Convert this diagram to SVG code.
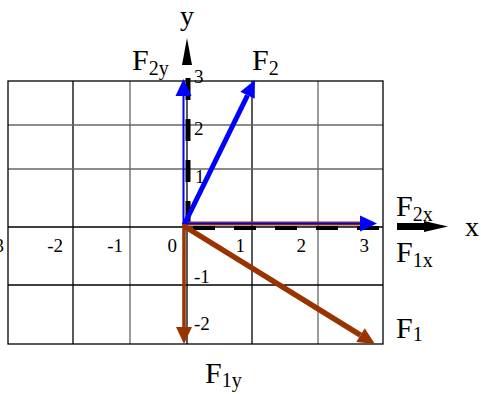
<svg xmlns="http://www.w3.org/2000/svg" width="481" height="394" viewBox="0 0 481 394">
<style>
  .g { stroke: #000; stroke-width: 1.3; fill: none; }
  .gl { stroke: #666; stroke-width: 1.3; fill: none; }
  .lbl { font-family: "Liberation Serif", "Times New Roman", serif; font-size: 30px; fill: #000; }
  .sub { font-size: 20px; }
  .tick { font-family: "Liberation Serif", "Times New Roman", serif; font-size: 19px; fill: #000; }
  .axis { stroke: #000; fill: none; stroke-dasharray: 22 19; }
  .blue { stroke: #0000ff; fill: none; }
  .brown { stroke: #993300; fill: none; }
</style>
<defs>
  <marker id="ahBlue" markerUnits="userSpaceOnUse" viewBox="0 -8 17 16" markerWidth="17" markerHeight="16" refX="0" refY="0" orient="auto" overflow="visible">
    <path d="M0,-8 L17,0 L0,8 z" fill="#0000ff"/>
  </marker>
  <marker id="ahBrown" markerUnits="userSpaceOnUse" viewBox="0 -8 17 16" markerWidth="17" markerHeight="16" refX="0" refY="0" orient="auto" overflow="visible">
    <path d="M0,-8 L17,0 L0,8 z" fill="#993300"/>
  </marker>
</defs>
<rect width="481" height="394" fill="#fff"/>
<g id="grid">
  <line class="g" x1="73" y1="81" x2="73" y2="344"/>
  <line class="gl" x1="130" y1="81" x2="130" y2="344"/>
  <line class="g" x1="187" y1="81" x2="187" y2="344"/>
  <line class="g" x1="252" y1="81" x2="252" y2="344"/>
  <line class="gl" x1="318" y1="81" x2="318" y2="344"/>
  <line class="gl" x1="8" y1="125" x2="383" y2="125"/>
  <line class="gl" x1="8" y1="169" x2="383" y2="169"/>
  <line class="g" x1="8" y1="227" x2="383" y2="227"/>
  <line class="g" x1="8" y1="285" x2="383" y2="285"/>
  <rect class="g" x="8" y="81" width="375" height="263"/>
</g>
<g id="ticks">
  <text class="tick" x="4" y="252" text-anchor="end">-3</text>
  <text class="tick" x="63" y="252" text-anchor="end">-2</text>
  <text class="tick" x="123" y="252" text-anchor="end">-1</text>
  <text class="tick" x="177" y="252" text-anchor="end">0</text>
  <text class="tick" x="245" y="252" text-anchor="end">1</text>
  <text class="tick" x="306" y="252" text-anchor="end">2</text>
  <text class="tick" x="369" y="252" text-anchor="end">3</text>
  <text class="tick" x="194" y="83">3</text>
  <text class="tick" x="194" y="135">2</text>
  <text class="tick" x="195" y="183">1</text>
  <text class="tick" x="194" y="283">-1</text>
  <text class="tick" x="194" y="330">-2</text>
</g>
<g id="connectors">
  <line class="axis" x1="193" y1="228" x2="380" y2="228" stroke-width="4"/>
  <line class="axis" x1="188" y1="78" x2="188" y2="226" stroke-width="5"/>
  <path d="M187,38 L192,65 L182,65 z" fill="#000"/>
  <path d="M397,226.5 H426" stroke="#000" stroke-width="7" fill="none"/>
  <path d="M424,221 L448,226.5 L424,232 z" fill="#000"/>
  <line class="brown" x1="183" y1="223.5" x2="362" y2="223.5" stroke-width="4"/>
  <line class="blue" x1="183" y1="223.5" x2="360" y2="223.5" stroke-width="1.6" marker-end="url(#ahBlue)"/>
  <line class="blue" x1="183.5" y1="226" x2="183.5" y2="96" stroke-width="2" marker-end="url(#ahBlue)"/>
  <line class="blue" x1="184" y1="225" x2="247.5" y2="95.3" stroke-width="5" marker-end="url(#ahBlue)"/>
  <line class="brown" x1="184" y1="224" x2="184" y2="327" stroke-width="3.5" marker-end="url(#ahBrown)"/>
  <line class="brown" x1="184" y1="226" x2="360.5" y2="335.1" stroke-width="5.5" marker-end="url(#ahBrown)"/>
</g>
<g id="label-y"><text class="lbl" x="180" y="25" style="font-size:28px">y</text></g>
<g id="label-x"><text class="lbl" x="465" y="236" style="font-size:28px">x</text></g>
<g id="label-F2y"><text class="lbl" x="132" y="70">F<tspan class="sub" dy="5">2y</tspan></text></g>
<g id="label-F2"><text class="lbl" x="252" y="70">F<tspan class="sub" dy="5">2</tspan></text></g>
<g id="label-F2x"><text class="lbl" x="396" y="216">F<tspan class="sub" dy="5">2x</tspan></text></g>
<g id="label-F1x"><text class="lbl" x="396" y="262">F<tspan class="sub" dy="5">1x</tspan></text></g>
<g id="label-F1"><text class="lbl" x="396" y="338">F<tspan class="sub" dy="3">1</tspan></text></g>
<g id="label-F1y"><text class="lbl" x="205" y="383">F<tspan class="sub" dy="4">1y</tspan></text></g>
</svg>
